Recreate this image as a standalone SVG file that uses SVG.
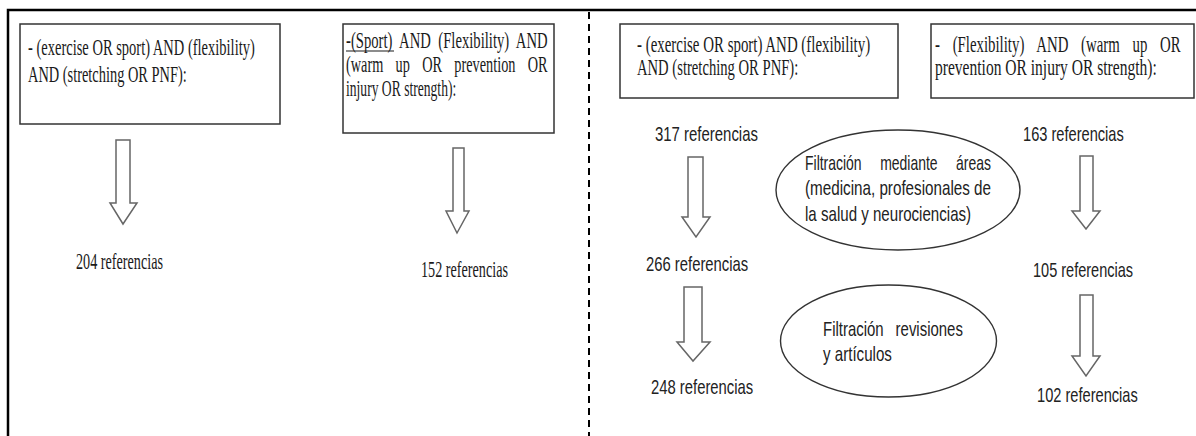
<svg xmlns="http://www.w3.org/2000/svg" width="1196" height="436" viewBox="0 0 1196 436">
<style>
.frame{stroke:#000;stroke-width:2.5;fill:none}
.dash{stroke:#000;stroke-width:2;stroke-dasharray:7 5;fill:none}
.box{fill:#fff;stroke:#333;stroke-width:1.5}
.ell{fill:#fff;stroke:#333;stroke-width:1.4}
.arr{fill:#fff;stroke:#666;stroke-width:1.5;stroke-linejoin:miter}
.tm{font-family:"Liberation Serif","Times New Roman",serif;font-size:23px;fill:#1a1a1a}
.ar{font-family:"Liberation Sans",Arial,sans-serif;font-size:21px;fill:#222}
.ul{stroke:#1a1a1a;stroke-width:1.2}
</style>
<rect width="1196" height="436" fill="#fff"/>
<g id="frame">
<path class="frame" d="M8,436 V10 H1196"/>
<path class="dash" d="M589,12 V436"/>
</g>
<g id="q1">
<rect class="box" x="20" y="24" width="260" height="100"/>
<text class="tm" transform="translate(28,55) scale(0.63,1)" textLength="360" lengthAdjust="spacingAndGlyphs">- (exercise OR sport) AND (flexibility)</text>
<text class="tm" transform="translate(28,82) scale(0.63,1)" textLength="252" lengthAdjust="spacingAndGlyphs">AND (stretching OR PNF):</text>
</g>
<g id="q2">
<rect class="box" x="343" y="24" width="211" height="109"/>
<text class="tm" transform="translate(346,48) scale(0.63,1)" textLength="320" lengthAdjust="spacingAndGlyphs" style="word-spacing:6px">-(Sport) AND (Flexibility) AND</text>
<line class="ul" x1="346" y1="51" x2="394" y2="51"/>
<text class="tm" transform="translate(346,72) scale(0.63,1)" textLength="320" lengthAdjust="spacingAndGlyphs" style="word-spacing:14px">(warm up OR prevention OR</text>
<text class="tm" transform="translate(346,96) scale(0.63,1)" textLength="175" lengthAdjust="spacingAndGlyphs">injury OR strength):</text>
</g>
<g id="q3">
<rect class="box" x="620" y="24" width="278" height="74"/>
<text class="tm" transform="translate(637,52) scale(0.63,1)" textLength="370" lengthAdjust="spacingAndGlyphs">- (exercise OR sport) AND (flexibility)</text>
<text class="tm" transform="translate(637,75) scale(0.63,1)" textLength="256" lengthAdjust="spacingAndGlyphs">AND (stretching OR PNF):</text>
</g>
<g id="q4">
<rect class="box" x="931" y="24" width="263" height="74"/>
<text class="tm" transform="translate(935,52) scale(0.63,1)" textLength="390" lengthAdjust="spacingAndGlyphs" style="word-spacing:14px">- (Flexibility) AND (warm up OR</text>
<text class="tm" transform="translate(935,75) scale(0.63,1)" textLength="352" lengthAdjust="spacingAndGlyphs">prevention OR injury OR strength):</text>
</g>
<g id="r204"><text class="tm" transform="translate(76,269) scale(0.63,1)" textLength="138" lengthAdjust="spacingAndGlyphs">204 referencias</text></g>
<g id="r152"><text class="tm" transform="translate(421,277) scale(0.63,1)" textLength="138" lengthAdjust="spacingAndGlyphs">152 referencias</text></g>
<g id="r317"><text class="ar" transform="translate(655,141) scale(0.71,1)" textLength="145" lengthAdjust="spacingAndGlyphs">317 referencias</text></g>
<g id="r163"><text class="ar" transform="translate(1023,141) scale(0.71,1)" textLength="142" lengthAdjust="spacingAndGlyphs">163 referencias</text></g>
<g id="r266"><text class="ar" transform="translate(646,271) scale(0.71,1)" textLength="144" lengthAdjust="spacingAndGlyphs">266 referencias</text></g>
<g id="r248"><text class="ar" transform="translate(651,394) scale(0.71,1)" textLength="144" lengthAdjust="spacingAndGlyphs">248 referencias</text></g>
<g id="r105"><text class="ar" transform="translate(1033,277) scale(0.71,1)" textLength="141" lengthAdjust="spacingAndGlyphs">105 referencias</text></g>
<g id="r102"><text class="ar" transform="translate(1037,402) scale(0.71,1)" textLength="142" lengthAdjust="spacingAndGlyphs">102 referencias</text></g>
<g id="f1">
<ellipse class="ell" cx="898" cy="190" rx="122" ry="60"/>
<text class="ar" transform="translate(805,170) scale(0.71,1)" textLength="262" lengthAdjust="spacingAndGlyphs" style="word-spacing:22px">Filtración mediante áreas</text>
<text class="ar" transform="translate(805,195) scale(0.71,1)" textLength="262" lengthAdjust="spacingAndGlyphs">(medicina, profesionales de</text>
<text class="ar" transform="translate(805,221) scale(0.71,1)" textLength="234" lengthAdjust="spacingAndGlyphs">la salud y neurociencias)</text>
</g>
<g id="f2">
<ellipse class="ell" cx="888.5" cy="341" rx="108" ry="56"/>
<text class="ar" transform="translate(823,336) scale(0.71,1)" textLength="197" lengthAdjust="spacingAndGlyphs" style="word-spacing:11px">Filtración revisiones</text>
<text class="ar" transform="translate(823,361) scale(0.71,1)" textLength="97" lengthAdjust="spacingAndGlyphs">y artículos</text>
</g>
<g id="connectors">
<polygon class="arr" points="116,140 130,140 130,203 137,203 123,224 110,203 116,203"/>
<polygon class="arr" points="453,148 464,148 464,211 469,211 457,233 446,211 453,211"/>
<polygon class="arr" points="688,157 703,157 703,217 710,217 696,237 682,217 688,217"/>
<polygon class="arr" points="684,287 702,287 702,342 710,342 693,361 677,342 684,342"/>
<polygon class="arr" points="1080,156 1093,156 1093,211 1100,211 1086,229 1072,211 1080,211"/>
<polygon class="arr" points="1080,295 1093,295 1093,356 1100,356 1086,376 1072,356 1080,356"/>
</g>
</svg>
